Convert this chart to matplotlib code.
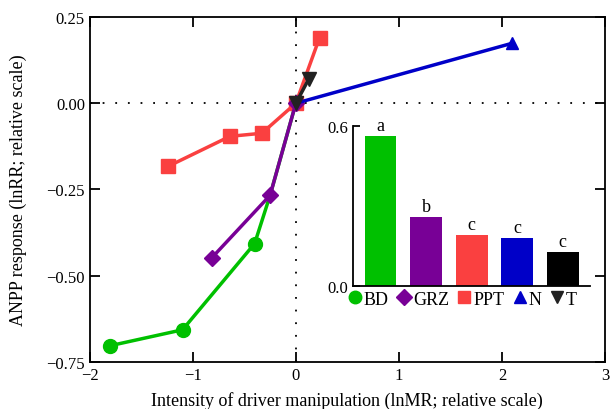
import matplotlib.pyplot as plt
from matplotlib.lines import Line2D

plt.rcParams['font.family'] = ['Liberation Serif', 'DejaVu Serif']

# driver response curves (lnMR, lnRR)
bd_x = [-1.80, -1.10, -0.40, -0.25, 0.0]
bd_y = [-0.703, -0.657, -0.407, -0.267, 0.0]
grz_x = [-0.815, -0.25, 0.0]
grz_y = [-0.448, -0.267, 0.0]
ppt_x = [-1.24, -0.64, -0.33, 0.0, 0.23]
ppt_y = [-0.183, -0.096, -0.087, 0.0, 0.19]
n_x = [0.0, 2.10]
n_y = [0.0, 0.174]
t_x = [0.0, 0.125]
t_y = [0.0, 0.07]

# inset bars
bar_names = ['BD', 'GRZ', 'PPT', 'N', 'T']
bar_vals = [0.564, 0.259, 0.190, 0.178, 0.125]
bar_letters = ['a', 'b', 'c', 'c', 'c']

green = '#00c000'
purple = '#780096'
red = '#fa4040'
blue = '#0000c8'
black = '#222222'
bar_cols = [green, purple, red, blue, '#000000']

fig = plt.figure(figsize=(6.11, 4.10), dpi=100)
ax = fig.add_axes([0.147, 0.115, 0.843, 0.841])

ax.axhline(0, color='black', lw=1.3, ls=(0, (1, 6)), zorder=1)
ax.axvline(0, color='black', lw=1.3, ls=(0, (1, 6)), zorder=1)

ax.plot(ppt_x, ppt_y, color=red, lw=2.5, marker='s', ms=10, zorder=3)
# green marker at -0.25 is hidden beneath the purple diamond
ax.plot(bd_x, bd_y, color=green, lw=2.5, marker='o', ms=10, zorder=2,
        markevery=[0, 1, 2, 4])
ax.plot(grz_x, grz_y, color=purple, lw=2.5, marker='D', ms=8, zorder=4)
ax.plot(n_x, n_y, color=blue, lw=2.5, marker='^', ms=9, zorder=4, markevery=[1])
ax.plot(t_x, t_y, color=black, lw=2.5, marker='v', ms=10, zorder=5)

ax.set_xlim(-2, 3)
ax.set_ylim(-0.75, 0.25)
ax.set_xticks([-2, -1, 0, 1, 2, 3])
ax.set_yticks([-0.75, -0.5, -0.25, 0, 0.25])
ax.set_yticklabels(['\u22120.75', '\u22120.50', '\u22120.25', '0.00', '0.25'])
ax.set_xticklabels(['\u22122', '\u22121', '0', '1', '2', '3'])
ax.tick_params(direction='in', length=7, width=1.3, labelsize=12, top=True, right=True)
for s in ax.spines.values():
    s.set_linewidth(1.3)
ax.set_xlabel('Intensity of driver manipulation (lnMR; relative scale)', fontsize=13, labelpad=6)
ax.set_ylabel('ANPP response (lnRR; relative scale)', fontsize=13, labelpad=14)

# inset bar chart
ins = fig.add_axes([0.578, 0.301, 0.388, 0.389])
ins.bar(range(5), bar_vals, color=bar_cols, width=0.7)
for i, (v, lab) in enumerate(zip(bar_vals, bar_letters)):
    ins.text(i, v + 0.008, lab, ha='center', va='bottom', fontsize=13)
ins.set_xlim(-0.6, 4.6)
ins.set_ylim(0, 0.6)
ins.set_yticks([0, 0.6])
ins.set_yticklabels(['0.0', '0.6'])
ins.set_xticks([])
ins.spines['top'].set_visible(False)
ins.spines['right'].set_visible(False)
ins.spines['left'].set_linewidth(1.3)
ins.spines['bottom'].set_linewidth(1.3)
ins.tick_params(direction='in', length=5, width=1.3, labelsize=12)

handles = [
    Line2D([], [], color=green, marker='o', ls='', ms=9),
    Line2D([], [], color=purple, marker='D', ls='', ms=8),
    Line2D([], [], color=red, marker='s', ls='', ms=8),
    Line2D([], [], color=blue, marker='^', ls='', ms=8),
    Line2D([], [], color=black, marker='v', ls='', ms=8),
]
fig.legend(handles, bar_names, loc='center', bbox_to_anchor=(0.755, 0.268), ncol=5,
           frameon=False, fontsize=13, handletextpad=0.0, columnspacing=0.35,
           handlelength=1.0, borderaxespad=0, borderpad=0)

fig.savefig('out.png', dpi=100)
